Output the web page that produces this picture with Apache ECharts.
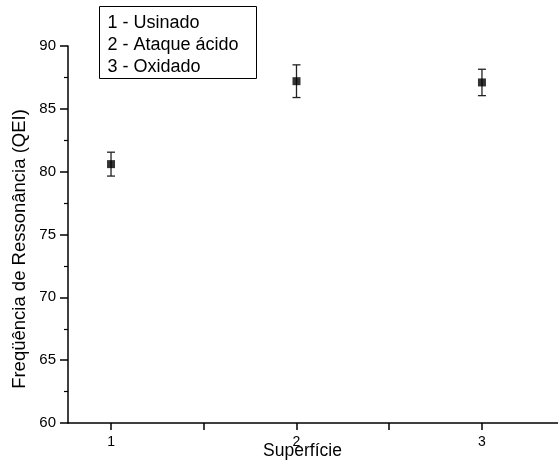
<!DOCTYPE html>
<html>
<head>
<meta charset="utf-8">
<script src="https://cdn.jsdelivr.net/npm/echarts@6/dist/echarts.min.js"></script>
<style>html,body{margin:0;padding:0;background:#fff}#c{width:558px;height:465px}</style>
</head>
<body>
<div id="c"></div>
<script>
var categories = [1, 2, 3];
var meanValues = [80.6, 87.2, 87.1];
var errorValues = [0.95, 1.3, 1.05];
var yTicks = [60, 65, 70, 75, 80, 85, 90];
var legendLines = ['1 - Usinado', '2 - Ataque ácido', '3 - Oxidado'];
var xTitle = 'Superfície';
var yTitle = 'Freqüência de Ressonância (QEI)';

var FONT = '"Liberation Sans", Arial, Helvetica, sans-serif';
var chart = echarts.init(document.getElementById('c'));

var pts = categories.map(function (c, i) { return [c, meanValues[i]]; });
var errs = categories.map(function (c, i) { return [c, meanValues[i] - errorValues[i], meanValues[i] + errorValues[i]]; });

chart.setOption({
  animation: false,
  backgroundColor: '#fff',
  grid: { left: 68, right: 0, top: 46, bottom: 42, outerBoundsMode: 'none', containLabel: false },
  xAxis: {
    type: 'value', min: 0.768, max: 3.41,
    name: xTitle, nameLocation: 'middle', nameGap: 19, nameMoveOverlap: false,
    nameTextStyle: { fontFamily: FONT, fontSize: 17.5, color: '#000', padding: [0, 21, 0, 0] },
    axisLine: { lineStyle: { color: '#000', width: 1.5 } },
    axisTick: { show: true, inside: false, length: 7, customValues: [1, 1.5, 2, 2.5, 3], lineStyle: { color: '#000', width: 1.5 } },
    axisLabel: { customValues: categories, margin: 12, fontFamily: FONT, fontSize: 14, color: '#000' },
    splitLine: { show: false }
  },
  yAxis: {
    type: 'value', min: 60, max: 90, interval: 5,
    name: yTitle, nameLocation: 'middle', nameGap: 39, nameRotate: 90, nameMoveOverlap: false,
    nameTextStyle: { fontFamily: FONT, fontSize: 18.5, color: '#000', padding: [0, 29, 0, 0] },
    axisLine: { show: true, lineStyle: { color: '#000', width: 1.5 } },
    axisTick: { show: true, inside: false, length: 8, customValues: yTicks, lineStyle: { color: '#000', width: 1.5 } },
    minorTick: { show: true, splitNumber: 2, length: 4, lineStyle: { color: '#000', width: 1.2 } },
    axisLabel: { customValues: yTicks, margin: 12, fontFamily: FONT, fontSize: 15, color: '#000' },
    splitLine: { show: false }
  },
  series: [
    {
      type: 'custom',
      data: errs,
      renderItem: function (params, api) {
        var x = api.value(0);
        var lo = api.coord([x, api.value(1)]);
        var hi = api.coord([x, api.value(2)]);
        var hw = 4;
        var st = { stroke: '#222', lineWidth: 1.3 };
        return {
          type: 'group',
          children: [
            { type: 'line', shape: { x1: lo[0], y1: lo[1], x2: hi[0], y2: hi[1] }, style: st },
            { type: 'line', shape: { x1: lo[0] - hw, y1: lo[1], x2: lo[0] + hw, y2: lo[1] }, style: st },
            { type: 'line', shape: { x1: hi[0] - hw, y1: hi[1], x2: hi[0] + hw, y2: hi[1] }, style: st }
          ]
        };
      },
      z: 2
    },
    {
      type: 'scatter',
      data: pts,
      symbol: 'rect',
      symbolSize: 8,
      itemStyle: { color: '#000' },
      z: 3
    }
  ],
  graphic: [
    {
      type: 'group', left: 99, top: 6,
      children: [
        { type: 'rect', shape: { x: 0, y: 0, width: 157, height: 72 }, style: { fill: '#fff', stroke: '#000', lineWidth: 1 } },
        { type: 'text', x: 8, y: 6, style: { text: legendLines.join('\n'), font: '18px ' + FONT, lineHeight: 22, fill: '#000' } }
      ]
    }
  ]
});
</script>
</body>
</html>
